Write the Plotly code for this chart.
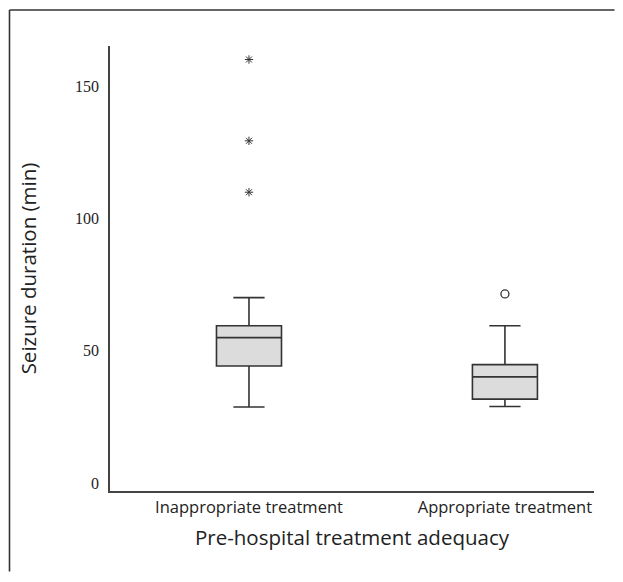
import plotly.graph_objects as go

categories = ["Inappropriate treatment", "Appropriate treatment"]
q1 = [44.3, 31.8]
median = [55.0, 40.2]
q3 = [59.5, 44.8]
lowerfence = [28.8, 29.0]
upperfence = [70.1, 59.5]
extreme_x = ["Inappropriate treatment"] * 3
extreme_y = [160.0, 129.3, 109.9]
outlier_x = ["Appropriate treatment"]
outlier_y = [71.5]
y_ticks = [0, 50, 100, 150]

LINE = "#333333"
FONT = "Open Sans"
OFF = 8  # page body margin offset

W, H = 623 - 2 * OFF, 582 - 2 * OFF - 2
L, R, T, B = 110 - OFF, 594 - OFF, 46 - OFF, 491 - OFF
PW, PH = R - L, B - T

fig = go.Figure()
fig.add_trace(go.Box(
    x=categories, q1=q1, median=median, q3=q3,
    lowerfence=lowerfence, upperfence=upperfence,
    boxpoints=False, width=0.254, whiskerwidth=0.48,
    fillcolor="#dcdcdd", line=dict(color=LINE, width=1.6),
    showlegend=False, hoverinfo="skip",
))
fig.add_trace(go.Scatter(
    x=extreme_x, y=extreme_y, mode="markers",
    marker=dict(symbol="asterisk-open", size=7, color=LINE, line=dict(color=LINE, width=1)),
    showlegend=False,
))
fig.add_trace(go.Scatter(
    x=outlier_x, y=outlier_y, mode="markers",
    marker=dict(symbol="circle-open", size=8, color=LINE, line=dict(color=LINE, width=1.3)),
    showlegend=False,
))

fx0 = (9.5 - OFF - L) / PW
fx1 = (W - 0.5 - L) / PW
fy0 = (B - (10 - OFF)) / PH
fy1 = (B - (H - 0.5)) / PH

fig.update_layout(
    width=W, height=H,
    margin=dict(l=L, r=W - R, t=T, b=H - B),
    paper_bgcolor="white", plot_bgcolor="white",
    font=dict(family=FONT, color="#222222"),
    xaxis=dict(
        type="category", categoryorder="array", categoryarray=categories,
        range=[-0.543, 1.348], showgrid=False, zeroline=False,
        showline=True, linecolor="#444444", linewidth=1.8,
        ticks="", tickfont=dict(family=FONT, size=16.5, color="#222222"),
        title=dict(text="Pre-hospital treatment adequacy", font=dict(family=FONT, size=20.5, color="#222222"), standoff=14),
    ),
    yaxis=dict(
        range=[-2.9, 165.1], showgrid=False, zeroline=False,
        showline=True, linecolor="#444444", linewidth=1.8,
        tickvals=y_ticks, ticks="", ticklabelstandoff=6,
        tickfont=dict(family="Liberation Serif", size=16, color="#222222"),
        title=dict(text="Seizure duration (min)", font=dict(family=FONT, size=20.5, color="#222222"), standoff=33),
    ),
    shapes=[
        dict(type="line", xref="paper", yref="paper", x0=fx0, x1=fx1, y0=fy0, y1=fy0,
             line=dict(color="#333333", width=1.6)),
        dict(type="line", xref="paper", yref="paper", x0=fx0, x1=fx0, y0=fy0, y1=fy1,
             line=dict(color="#333333", width=1.6)),
    ],
)

fig.write_html("out.html")
